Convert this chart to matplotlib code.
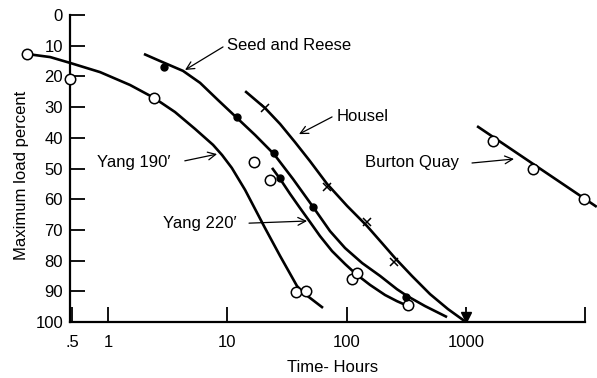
import numpy as np
import matplotlib.pyplot as plt

plt.rcParams['font.family'] = ['Liberation Sans', 'DejaVu Sans']

# curves (time in hours, percent of max load)
yang190_t = [0.209, 0.327, 0.48, 0.857, 1.53, 2.43, 3.64, 5.36, 7.59, 9.03, 10.9,
             14.1, 20.7, 27.7, 38.4, 44.8, 63.4]
yang190_p = [12.7, 13.7, 15.6, 18.6, 22.8, 27.0, 31.6, 37.1, 42.3, 45.6, 49.8,
             57.0, 69.4, 78.5, 88.3, 90.9, 95.4]

yang220_t = [23.7, 27.7, 33.6, 40.7, 49.3, 59.8, 75.5, 97.0, 120, 157, 210, 264, 327]
yang220_p = [49.8, 53.4, 58.3, 62.9, 67.4, 72.0, 76.9, 81.1, 84.4, 87.9, 91.2, 93.2, 94.8]

seed_t = [2.00, 2.73, 4.25, 5.91, 8.35, 12.1, 17.1, 24.6, 35.5, 52.3, 72.6, 97.0,
          135, 191, 264, 321, 454, 695]
seed_p = [12.7, 15.0, 18.2, 22.1, 27.7, 33.6, 39.1, 45.3, 53.4, 62.5, 70.4, 75.9,
          80.8, 85.0, 89.3, 91.5, 94.8, 98.4]

housel_t = [14.1, 20.7, 27.7, 36.9, 49.3, 68.5, 101, 148, 198, 255, 353, 500, 708, 1000]
housel_p = [24.8, 30.3, 35.5, 41.4, 47.6, 55.0, 62.2, 68.7, 74.3, 79.2, 85.0, 90.9, 95.8, 100]

burton_t = [1240, 12500]
burton_p = [36.2, 62.5]

# measured points
yang190_pts_t = [0.209, 0.48, 2.43, 37.7, 45.7]
yang190_pts_p = [12.7, 20.8, 27.0, 90.2, 89.9]
yang220_pts_t = [16.7, 22.8, 111, 122, 327]
yang220_pts_p = [47.9, 53.7, 86.0, 84.0, 94.5]
seed_pts_t = [2.95, 12.1, 24.6, 27.7, 52.3, 315]
seed_pts_p = [16.9, 33.2, 45.0, 53.1, 62.5, 91.9]
housel_pts_t = [20.7, 68.5, 148, 250]
housel_pts_p = [30.3, 55.9, 67.4, 80.5]
burton_pts_t = [1688, 3648, 9770]
burton_pts_p = [41.0, 50.2, 59.9]

xticks = [0.5, 1, 10, 100, 1000, 10000]
xticklabels = ['.5', '1', '10', '100', '1000', '']
yticks = list(range(0, 101, 10))

fig = plt.figure(figsize=(5.97, 3.78), dpi=100)
ax = fig.add_axes([0.1173, 0.1481, 0.8827, 0.8122])
ax.set_xscale('log')
ax.set_xlim(0.48, 12560)
ax.set_ylim(100, 0)

lw = 1.9
for t, p in [(yang190_t, yang190_p), (yang220_t, yang220_p), (seed_t, seed_p),
             (housel_t, housel_p), (burton_t, burton_p)]:
    ax.plot(t, p, color='black', lw=lw, clip_on=False, zorder=2,
            solid_joinstyle='round', solid_capstyle='butt')

open_style = dict(ls='none', marker='o', ms=7.5, mfc='white', mec='black', mew=1.1,
                  clip_on=False, zorder=3)
ax.plot(yang190_pts_t, yang190_pts_p, **open_style)
ax.plot(yang220_pts_t, yang220_pts_p, **open_style)
ax.plot(burton_pts_t, burton_pts_p, **open_style)
ax.plot(seed_pts_t, seed_pts_p, ls='none', marker='o', ms=5, color='black', zorder=3)
ax.plot(housel_pts_t, housel_pts_p, ls='none', marker='x', ms=6, mew=1.1, color='black', zorder=3)
ax.plot([1000], [98.5], ls='none', marker='v', ms=7, color='black', clip_on=False, zorder=3)

# labels with arrows
fs = 12
arr = dict(arrowstyle='->', lw=0.9, color='black', shrinkA=0, shrinkB=0, mutation_scale=14)
ax.text(9.94, 9.8, 'Seed and Reese', fontsize=fs, va='center', ha='left')
ax.annotate('', xy=(4.42, 17.9), xytext=(9.2, 10.4), arrowprops=arr)
ax.text(83.1, 32.9, 'Housel', fontsize=fs, va='center', ha='left')
ax.annotate('', xy=(39.9, 38.8), xytext=(75.5, 33.2), arrowprops=arr)
ax.text(0.81, 47.9, 'Yang 190\u2032', fontsize=fs, va='center', ha='left')
ax.annotate('', xy=(8.2, 45.3), xytext=(4.4, 47.5), arrowprops=arr)
ax.text(2.89, 67.8, 'Yang 220\u2032', fontsize=fs, va='center', ha='left')
ax.annotate('', xy=(46.6, 67.1), xytext=(15.2, 67.8), arrowprops=arr)
ax.text(143, 48.2, 'Burton Quay', fontsize=fs, va='center', ha='left')
ax.annotate('', xy=(2530, 46.9), xytext=(1125, 48.2), arrowprops=arr)

# axes styling
ax.spines['top'].set_visible(False)
ax.spines['right'].set_visible(False)
ax.spines['left'].set_linewidth(1.6)
ax.spines['bottom'].set_linewidth(1.6)
ax.spines['bottom'].set_bounds(0.48, 10000)
ax.set_xticks(xticks)
ax.set_xticklabels(xticklabels)
ax.xaxis.set_minor_locator(plt.NullLocator())
ax.set_yticks(yticks)
ax.tick_params(axis='both', direction='in', length=11, width=1.3, labelsize=fs)
ax.tick_params(axis='x', pad=9)
ax.tick_params(axis='y', pad=5)

fig.text(22 / 597, 1 - 175 / 378, 'Maximum load percent', rotation=90,
         fontsize=fs, ha='center', va='center')
fig.text(333 / 597, 1 - 368 / 378, 'Time- Hours', fontsize=fs, ha='center', va='center')

fig.savefig('out.png', dpi=100)
